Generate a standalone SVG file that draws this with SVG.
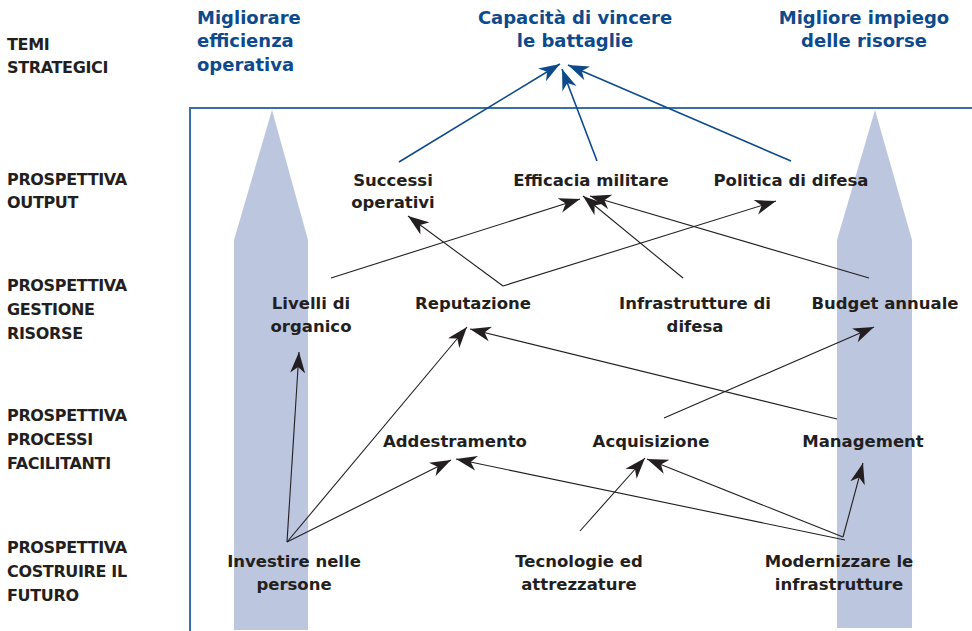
<svg xmlns="http://www.w3.org/2000/svg" width="972" height="631" viewBox="0 0 972 631">
  <style>
    .side { font-family: "DejaVu Sans", "Liberation Sans", sans-serif; font-weight: bold; font-size: 16px; letter-spacing: -0.35px; fill: #231f20; }
    .theme { font-family: "DejaVu Sans", "Liberation Sans", sans-serif; font-weight: bold; font-size: 18px; fill: #0d4a8b; }
    .node { font-family: "DejaVu Sans", "Liberation Sans", sans-serif; font-weight: bold; font-size: 16.5px; fill: #231f20; text-anchor: middle; }
    .column { fill: #bcc6df; }
    .frame { fill: none; stroke: #3a6fa5; stroke-width: 2; }
    .link-blue { fill: none; stroke: #0d4a8b; stroke-width: 1.6; marker-end: url(#head-blue); }
    .link { fill: none; stroke: #231f20; stroke-width: 1.1; marker-end: url(#head-black); }
  </style>
  <defs>
    <marker id="head-black" markerUnits="userSpaceOnUse" markerWidth="22" markerHeight="16" refX="21" refY="8" orient="auto">
      <path d="M0,0.5 L21,8 L0,15.5 L6,8 z" fill="#231f20"/>
    </marker>
    <marker id="head-blue" markerUnits="userSpaceOnUse" markerWidth="22" markerHeight="16" refX="21" refY="8" orient="auto">
      <path d="M0,0.5 L21,8 L0,15.5 L6,8 z" fill="#0d4a8b"/>
    </marker>
  </defs>

  <rect width="972" height="631" fill="#ffffff"/>

  <!-- upward columns behind the map -->
  <g id="columns">
    <polygon class="column" points="272,110 308,240 308,630 234,630 234,240"/>
    <polygon class="column" points="875,110 912,240 912,628 837,628 837,240"/>
  </g>

  <!-- map frame -->
  <path class="frame" d="M190,631 V108 H972"/>

  <!-- perspective row labels -->
  <g id="row-temi">
    <text class="side" x="7" y="50">TEMI</text>
    <text class="side" x="7" y="73">STRATEGICI</text>
  </g>
  <g id="row-output">
    <text class="side" x="7" y="185">PROSPETTIVA</text>
    <text class="side" x="7" y="208">OUTPUT</text>
  </g>
  <g id="row-risorse">
    <text class="side" x="7" y="291">PROSPETTIVA</text>
    <text class="side" x="7" y="315">GESTIONE</text>
    <text class="side" x="7" y="339">RISORSE</text>
  </g>
  <g id="row-processi">
    <text class="side" x="7" y="421">PROSPETTIVA</text>
    <text class="side" x="7" y="445">PROCESSI</text>
    <text class="side" x="7" y="469">FACILITANTI</text>
  </g>
  <g id="row-futuro">
    <text class="side" x="7" y="553">PROSPETTIVA</text>
    <text class="side" x="7" y="577">COSTRUIRE IL</text>
    <text class="side" x="7" y="601">FUTURO</text>
  </g>

  <!-- connectors -->
  <g id="connectors">
    <line class="link-blue" x1="399" y1="162" x2="560" y2="64"/>
    <line class="link-blue" x1="597" y1="161" x2="562" y2="69"/>
    <line class="link-blue" x1="791" y1="161" x2="568" y2="65"/>

    <line class="link" x1="331" y1="278" x2="580" y2="199"/>
    <line class="link" x1="503" y1="286" x2="408" y2="216"/>
    <line class="link" x1="503" y1="286" x2="776" y2="201"/>
    <line class="link" x1="683" y1="278" x2="583" y2="196"/>
    <line class="link" x1="869" y1="278" x2="590" y2="196"/>

    <line class="link" x1="287" y1="542" x2="299" y2="352"/>
    <line class="link" x1="287" y1="542" x2="467" y2="327"/>
    <line class="link" x1="287" y1="542" x2="451" y2="460"/>
    <line class="link" x1="837" y1="419" x2="470" y2="329"/>
    <line class="link" x1="664" y1="418" x2="874" y2="327"/>
    <line class="link" x1="580" y1="531" x2="645" y2="458"/>
    <line class="link" x1="845" y1="540" x2="456" y2="459"/>
    <line class="link" x1="843" y1="537" x2="647" y2="459"/>
    <line class="link" x1="843" y1="537" x2="863" y2="463"/>
  </g>

  <!-- strategic themes -->
  <g id="theme-efficienza">
    <text class="theme" x="197" y="24">Migliorare</text>
    <text class="theme" x="197" y="47">efficienza</text>
    <text class="theme" x="197" y="71">operativa</text>
  </g>
  <g id="theme-battaglie">
    <text class="theme" x="575" y="24" text-anchor="middle">Capacità di vincere</text>
    <text class="theme" x="575" y="47" text-anchor="middle">le battaglie</text>
  </g>
  <g id="theme-risorse">
    <text class="theme" x="864" y="24" text-anchor="middle">Migliore impiego</text>
    <text class="theme" x="864" y="47" text-anchor="middle">delle risorse</text>
  </g>

  <!-- output -->
  <g id="successi-operativi">
    <text class="node" x="393" y="186">Successi</text>
    <text class="node" x="393" y="208">operativi</text>
  </g>
  <g id="efficacia-militare">
    <text class="node" x="591" y="186">Efficacia militare</text>
  </g>
  <g id="politica-difesa">
    <text class="node" x="791" y="186">Politica di difesa</text>
  </g>

  <!-- resources -->
  <g id="livelli-organico">
    <text class="node" x="311" y="309">Livelli di</text>
    <text class="node" x="311" y="332">organico</text>
  </g>
  <g id="reputazione">
    <text class="node" x="473" y="309">Reputazione</text>
  </g>
  <g id="infrastrutture-difesa">
    <text class="node" x="695" y="309">Infrastrutture di</text>
    <text class="node" x="695" y="332">difesa</text>
  </g>
  <g id="budget-annuale">
    <text class="node" x="885" y="309">Budget annuale</text>
  </g>

  <!-- enabling processes -->
  <g id="addestramento">
    <text class="node" x="455" y="447">Addestramento</text>
  </g>
  <g id="acquisizione">
    <text class="node" x="651" y="447">Acquisizione</text>
  </g>
  <g id="management">
    <text class="node" x="863" y="447">Management</text>
  </g>

  <!-- building the future -->
  <g id="investire-persone">
    <text class="node" x="294" y="567">Investire nelle</text>
    <text class="node" x="294" y="590">persone</text>
  </g>
  <g id="tecnologie-attrezzature">
    <text class="node" x="579" y="567">Tecnologie ed</text>
    <text class="node" x="579" y="590">attrezzature</text>
  </g>
  <g id="modernizzare-infrastrutture">
    <text class="node" x="839" y="567">Modernizzare le</text>
    <text class="node" x="839" y="590">infrastrutture</text>
  </g>
</svg>
